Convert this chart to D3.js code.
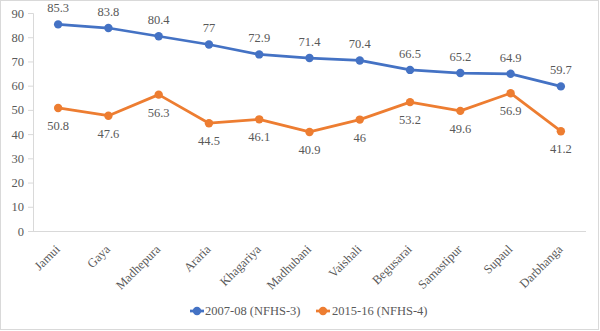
<!DOCTYPE html>
<html>
<head>
<meta charset="utf-8">
<script src="https://cdn.jsdelivr.net/npm/d3@7"></script>
<style>
  html, body { margin: 0; padding: 0; background: #fff; }
  svg { display: block; }
  svg text { font-family: "Liberation Serif", "Times New Roman", "DejaVu Serif", serif !important; fill: #595959; }
</style>
</head>
<body>
<script>
// Districts and the two survey rounds
const districts = ["Jamui", "Gaya", "Madhepura", "Araria", "Khagariya", "Madhubani",
  "Vaishali", "Begusarai", "Samastipur", "Supaul", "Darbhanga"];
const nfhs3 = [85.3, 83.8, 80.4, 77, 72.9, 71.4, 70.4, 66.5, 65.2, 64.9, 59.7];
const nfhs4 = [50.8, 47.6, 56.3, 44.5, 46.1, 40.9, 46, 53.2, 49.6, 56.9, 41.2];
const seriesNames = ["2007-08 (NFHS-3)", "2015-16 (NFHS-4)"];
const seriesColors = ["#4472C4", "#ED7D31"];
const yTicks = [0, 10, 20, 30, 40, 50, 60, 70, 80, 90];

const W = 600, H = 331;
const svg = d3.select("body").append("svg").attr("width", W).attr("height", H);

// chart border
svg.append("rect").attr("x", 0.5).attr("y", 0.5).attr("width", W - 2).attr("height", H - 2)
  .attr("fill", "#fff").attr("stroke", "#d9d9d9");

const plot = { left: 33, right: 586, top: 13, bottom: 231 };

const x = d3.scalePoint().domain(districts).range([plot.left, plot.right]).padding(0.5);
const y = d3.scaleLinear().domain([0, 90]).range([plot.bottom, plot.top]);

// y axis
const yAxis = svg.append("g").attr("transform", `translate(${plot.left},0)`)
  .call(d3.axisLeft(y).tickValues(yTicks).tickSize(5).tickPadding(4));
yAxis.attr("font-family", null);
yAxis.select(".domain").attr("stroke", "#d9d9d9");
yAxis.selectAll(".tick line").attr("stroke", "#d9d9d9");
yAxis.selectAll(".tick text").attr("font-size", 12.5);

// x axis
const xAxis = svg.append("g").attr("transform", `translate(0,${plot.bottom})`)
  .call(d3.axisBottom(x).tickSize(0).tickPadding(0));
xAxis.attr("font-family", null);
xAxis.select(".domain").attr("stroke", "#d9d9d9").attr("d", `M${plot.left},0.5H${plot.right}`);
xAxis.selectAll(".tick text")
  .attr("font-size", 12.5)
  .attr("text-anchor", "end").attr("dy", null).attr("y", 0)
  .attr("transform", "translate(2,19) rotate(-45)");

const series = [nfhs3, nfhs4];
const line = d3.line().x((d, i) => x(districts[i])).y(d => y(d));

series.forEach((vals, s) => {
  const g = svg.append("g");
  g.append("path").datum(vals).attr("d", line)
    .attr("fill", "none").attr("stroke", seriesColors[s]).attr("stroke-width", 2.75)
    .attr("stroke-linejoin", "round").attr("stroke-linecap", "round");
  g.selectAll("circle").data(vals).join("circle")
    .attr("cx", (d, i) => x(districts[i])).attr("cy", d => y(d)).attr("r", 4.2)
    .attr("fill", seriesColors[s]);
  g.selectAll("text.lbl").data(vals).join("text").attr("class", "lbl")
    .attr("x", (d, i) => x(districts[i]))
    .attr("y", d => y(d) + (s === 0 ? -12 : 22))
    .attr("text-anchor", "middle").attr("font-size", 12.5)
    .text(d => d);
});

// legend
const legend = svg.append("g");
const legendItems = [{ mx: 197, tx: 205 }, { mx: 323, tx: 332 }];
legendItems.forEach((p, s) => {
  const g = legend.append("g");
  g.append("line").attr("x1", p.mx - 7).attr("x2", p.mx + 7).attr("y1", 311).attr("y2", 311)
    .attr("stroke", seriesColors[s]).attr("stroke-width", 2.75);
  g.append("circle").attr("cx", p.mx).attr("cy", 311).attr("r", 4.2).attr("fill", seriesColors[s]);
  g.append("text").attr("x", p.tx).attr("y", 315).attr("font-size", 12.5).text(seriesNames[s]);
});
</script>
</body>
</html>
